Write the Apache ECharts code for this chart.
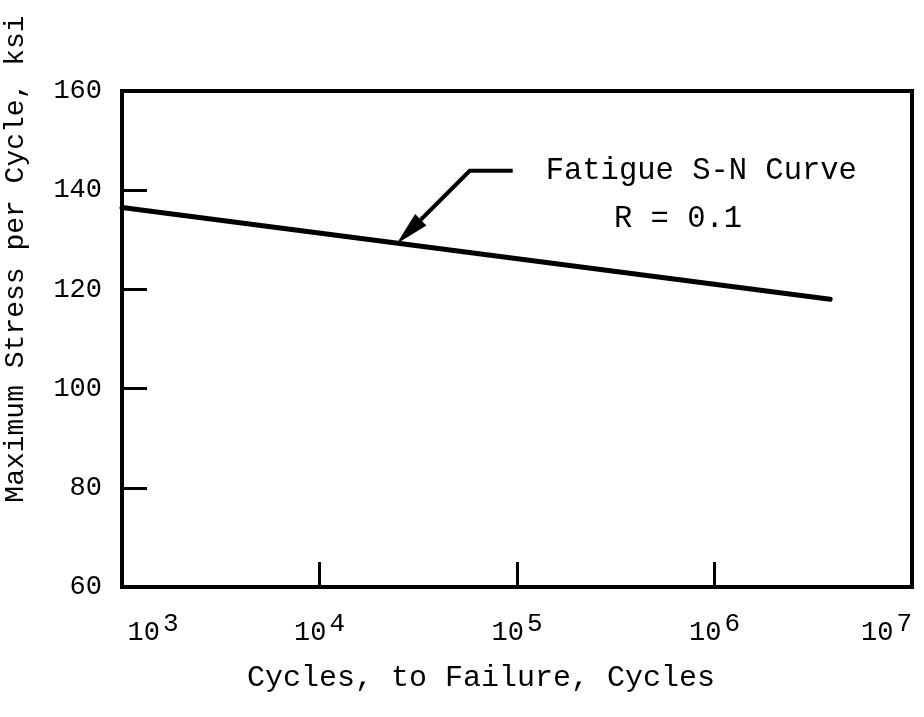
<!DOCTYPE html>
<html>
<head>
<meta charset="utf-8">
<script src="https://cdn.jsdelivr.net/npm/echarts@6/dist/echarts.min.js"></script>
<style>
  html, body { margin: 0; padding: 0; background: #fff; }
  #main { width: 924px; height: 717px; }
</style>
</head>
<body>
<div id="main"></div>
<script>
// S-N curve end points (cycles, ksi)
var cycles = [1000, 3850000];
var stress = [136.5, 118];
var yTicks = [60, 80, 100, 120, 140, 160];
var xTicks = [1e3, 1e4, 1e5, 1e6, 1e7];
// annotation anchor on the curve
var arrowAt = [24600, 129.2];
var noteLines = ["Fatigue S-N Curve", "R = 0.1"];

var font = "'Liberation Mono', 'DejaVu Sans Mono', monospace";
var myChart = echarts.init(document.getElementById("main"));

var pts = [];
for (var i = 0; i < cycles.length; i++) {
  pts.push([cycles[i], stress[i]]);
}

myChart.setOption({
  animation: false,
  backgroundColor: "#fff",
  grid: {
    left: 122,
    right: 12,
    top: 91,
    bottom: 130,
    outerBoundsMode: "none",
    containLabel: false,
    show: true,
    borderColor: "#000",
    borderWidth: 4
  },
  xAxis: {
    type: "log",
    logBase: 10,
    min: xTicks[0],
    max: xTicks[xTicks.length - 1],
    name: "Cycles, to Failure, Cycles",
    nameLocation: "middle",
    nameGap: 76,
    nameTextStyle: { fontFamily: font, fontSize: 30, color: "#000", padding: [0, 72, 0, 0] },
    axisLine: { lineStyle: { color: "#000", width: 4 } },
    axisTick: { inside: true, length: 25, lineStyle: { color: "#000", width: 3 } },
    splitLine: { show: false },
    axisLabel: {
      margin: 24,
      alignMaxLabel: "right",
      formatter: function (v) {
        var e = Math.round(Math.log10(v));
        // first label sits inside the left edge, as in the plot
        var lead = e === 3 ? "{p|}" : "";
        return lead + "{b|10}{s|" + e + "}";
      },
      rich: {
        p: { width: 62, verticalAlign: "bottom" },
        b: { fontFamily: font, fontSize: 27, color: "#000", verticalAlign: "bottom" },
        s: { fontFamily: font, fontSize: 26, color: "#000", verticalAlign: "bottom", padding: [0, 0, 9, 3] }
      }
    }
  },
  yAxis: {
    type: "value",
    min: yTicks[0],
    max: yTicks[yTicks.length - 1],
    interval: 20,
    name: "Maximum Stress per Cycle, ksi",
    nameLocation: "middle",
    nameGap: 92,
    nameTextStyle: { fontFamily: font, fontSize: 28, color: "#000", padding: [0, 0, 0, 160] },
    axisLine: { lineStyle: { color: "#000", width: 4 } },
    axisTick: { inside: true, length: 25, lineStyle: { color: "#000", width: 3 } },
    splitLine: { show: false },
    axisLabel: { margin: 20, fontFamily: font, fontSize: 27, color: "#000", padding: [0, 0, 12, 0] }
  },
  series: [
    {
      type: "line",
      data: pts,
      symbol: "none",
      lineStyle: { color: "#000", width: 5, cap: "round" }
    }
  ]
});

// leader arrow and note, placed from the curve point
var tip = myChart.convertToPixel({ seriesIndex: 0 }, arrowAt);
var elbow = [tip[0] + 73, tip[1] - 73];
var tail = [elbow[0] + 43, elbow[1]];
var dx = tip[0] - elbow[0], dy = tip[1] - elbow[1];
var len = Math.sqrt(dx * dx + dy * dy);
var ux = dx / len, uy = dy / len;
var headLen = 34, headW = 8;
var bx = tip[0] - ux * headLen, by = tip[1] - uy * headLen;

myChart.setOption({
  graphic: [
    {
      type: "polyline",
      shape: { points: [[bx, by], elbow, tail] },
      style: { stroke: "#000", lineWidth: 4, fill: null }
    },
    {
      type: "polygon",
      shape: {
        points: [
          [tip[0], tip[1]],
          [bx - uy * headW, by + ux * headW],
          [bx + uy * headW, by - ux * headW]
        ]
      },
      style: { fill: "#000" }
    },
    {
      type: "text",
      x: tail[0] + 33,
      y: elbow[1],
      style: {
        text: noteLines[0],
        font: "30.5px " + font,
        fill: "#000",
        verticalAlign: "middle"
      }
    },
    {
      type: "text",
      x: 678,
      y: elbow[1] + 48,
      style: {
        text: noteLines[1],
        font: "30.5px " + font,
        fill: "#000",
        align: "center",
        verticalAlign: "middle"
      }
    }
  ]
});
</script>
</body>
</html>
